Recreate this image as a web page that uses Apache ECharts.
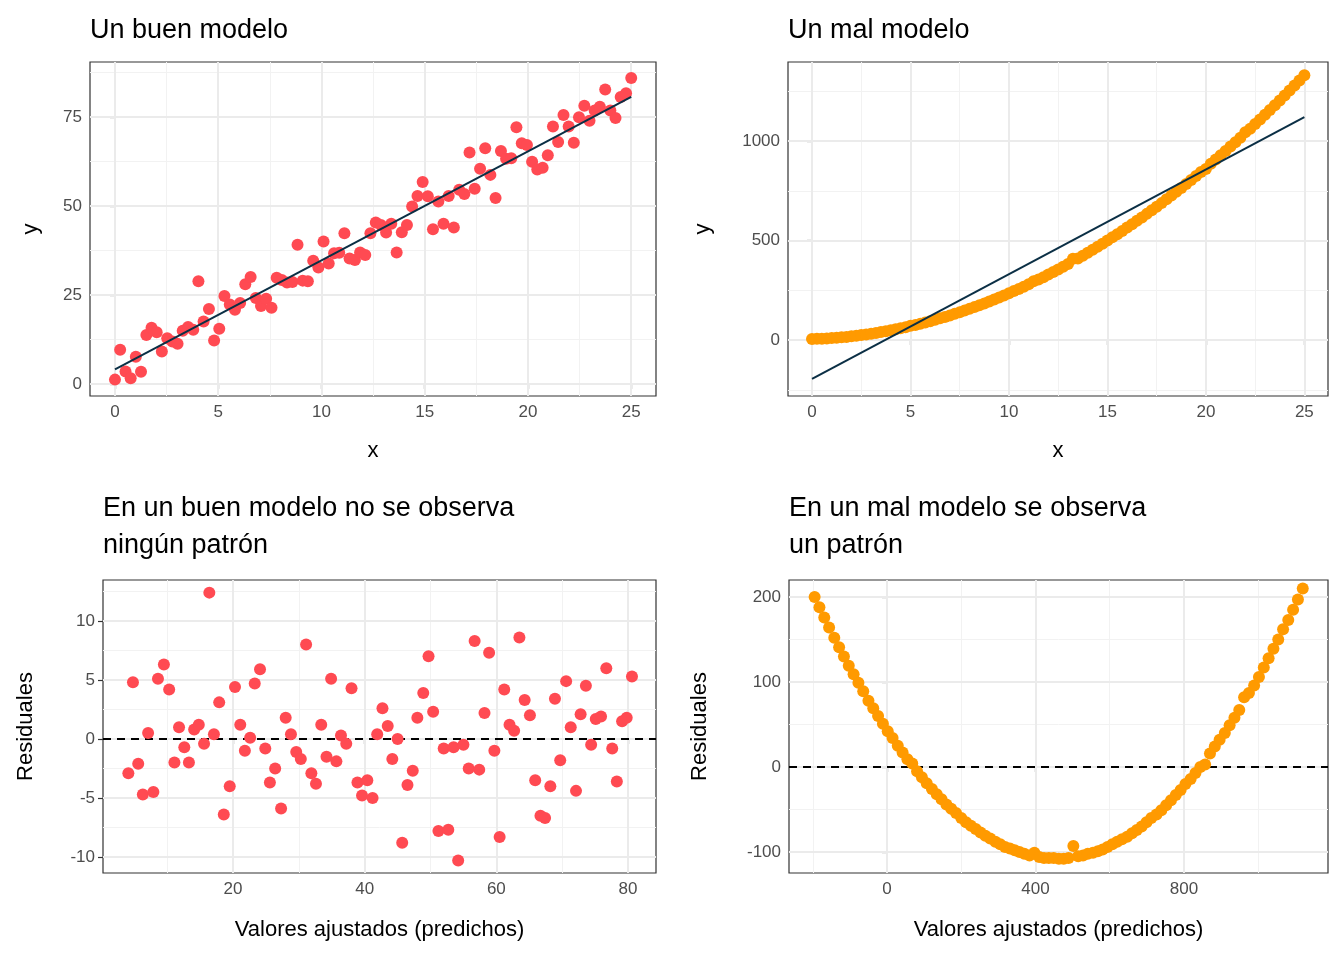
<!DOCTYPE html>
<html><head><meta charset="utf-8">
<script src="https://cdn.jsdelivr.net/npm/echarts@6/dist/echarts.min.js"></script>
<style>html,body{margin:0;padding:0;background:#fff}#c{width:1344px;height:960px}</style>
</head><body><div id="c"></div>
<script>
const xGood=[0.00,0.25,0.51,0.76,1.01,1.26,1.52,1.77,2.02,2.27,2.53,2.78,3.03,3.28,3.54,3.79,4.04,4.29,4.55,4.80,5.05,5.30,5.56,5.81,6.06,6.31,6.57,6.82,7.07,7.32,7.58,7.83,8.08,8.33,8.59,8.84,9.09,9.34,9.60,9.85,10.10,10.35,10.61,10.86,11.11,11.36,11.62,11.87,12.12,12.37,12.63,12.88,13.13,13.38,13.64,13.89,14.14,14.39,14.65,14.90,15.15,15.40,15.66,15.91,16.16,16.41,16.67,16.92,17.17,17.42,17.68,17.93,18.18,18.43,18.69,18.94,19.19,19.44,19.70,19.95,20.20,20.45,20.71,20.96,21.21,21.46,21.72,21.97,22.22,22.47,22.73,22.98,23.23,23.48,23.74,23.99,24.24,24.49,24.75,25.00];
const yGood=[1.2,9.6,3.5,1.6,7.6,3.4,13.7,15.8,14.5,9.1,12.8,11.9,11.3,14.9,16.0,15.2,28.8,17.5,21.0,12.2,15.5,24.7,22.3,20.8,22.7,28.0,30.0,24.1,21.9,23.9,21.4,29.8,29.2,28.5,28.6,39.1,29.0,28.8,34.6,32.7,40.0,33.8,36.7,36.8,42.3,35.2,34.8,36.9,36.2,42.3,45.3,44.6,42.5,45.0,36.9,42.6,44.6,49.8,52.8,56.7,52.7,43.4,51.2,45.0,52.8,43.9,54.5,53.3,65.0,54.8,60.4,66.2,58.7,52.2,65.4,63.2,63.4,72.1,67.6,67.1,62.4,60.2,60.7,64.2,72.3,67.9,75.5,72.3,67.7,74.9,78.1,73.9,76.8,77.8,82.7,76.8,74.7,80.6,81.6,85.9];
const fitGood=[4.1,4.8,5.6,6.3,7.1,7.9,8.6,9.5,10.3,11.1,11.8,12.6,13.3,14.1,14.8,15.6,16.4,17.1,17.9,18.6,19.5,20.3,21.1,21.8,22.6,23.3,24.1,24.9,25.6,26.4,27.3,28.0,28.8,29.6,30.3,31.1,31.9,32.6,33.4,34.2,34.9,35.7,36.4,37.2,38.0,38.9,39.6,40.4,41.2,41.9,42.7,43.5,44.2,45.0,45.7,46.5,47.3,48.0,48.9,49.7,50.4,51.2,52.0,52.7,53.5,54.2,55.0,55.8,56.7,57.4,58.2,58.9,59.7,60.5,61.2,62.0,62.7,63.5,64.3,65.1,65.9,66.7,67.4,68.2,68.9,69.7,70.6,71.3,72.1,72.8,73.6,74.4,75.1,75.9,76.7,77.6,78.3,79.1,79.8,80.6];
const resGood=[-2.9,4.8,-2.1,-4.7,0.5,-4.5,5.1,6.3,4.2,-2.0,1.0,-0.7,-2.0,0.8,1.2,-0.4,12.4,0.4,3.1,-6.4,-4.0,4.4,1.2,-1.0,0.1,4.7,5.9,-0.8,-3.7,-2.5,-5.9,1.8,0.4,-1.1,-1.7,8.0,-2.9,-3.8,1.2,-1.5,5.1,-1.9,0.3,-0.4,4.3,-3.7,-4.8,-3.5,-5.0,0.4,2.6,1.1,-1.7,0.0,-8.8,-3.9,-2.7,1.8,3.9,7.0,2.3,-7.8,-0.8,-7.7,-0.7,-10.3,-0.5,-2.5,8.3,-2.6,2.2,7.3,-1.0,-8.3,4.2,1.2,0.7,8.6,3.3,2.0,-3.5,-6.5,-6.7,-4.0,3.4,-1.8,4.9,1.0,-4.4,2.1,4.5,-0.5,1.7,1.9,6.0,-0.8,-3.6,1.5,1.8,5.3];
const lineGood=[[0,4.1],[25,80.6]];
const xBad=[0,0.25,0.5,0.75,1,1.25,1.5,1.75,2,2.25,2.5,2.75,3,3.25,3.5,3.75,4,4.25,4.5,4.75,5,5.25,5.5,5.75,6,6.25,6.5,6.75,7,7.25,7.5,7.75,8,8.25,8.5,8.75,9,9.25,9.5,9.75,10,10.25,10.5,10.75,11,11.25,11.5,11.75,12,12.25,12.5,12.75,13,13.25,13.5,13.75,14,14.25,14.5,14.75,15,15.25,15.5,15.75,16,16.25,16.5,16.75,17,17.25,17.5,17.75,18,18.25,18.5,18.75,19,19.25,19.5,19.75,20,20.25,20.5,20.75,21,21.25,21.5,21.75,22,22.25,22.5,22.75,23,23.25,23.5,23.75,24,24.25,24.5,24.75,25];
const yBad=[5,6,7,8,10,12,14,16,19,22,25,28,32,36,40,44,49,54,59,64,72,76,82,88,95,102,109,116,124,132,140,148,157,166,175,184,194,204,214,224,235,246,257,268,280,296,304,316,329,342,355,368,382,409,410,424,439,454,469,484,500,516,532,548,565,582,599,616,634,652,670,688,707,726,745,764,784,804,824,844,860,886,907,928,950,972,994,1016,1044,1062,1085,1108,1132,1156,1180,1204,1229,1254,1279,1304,1330];
const fitBad=[-195,-182,-169,-156,-142,-129,-116,-103,-90,-77,-64,-50,-37,-24,-11,2,15,29,42,55,68,81,94,107,121,134,147,160,173,186,200,213,226,239,252,265,278,292,305,318,331,344,357,370,384,397,410,423,436,449,463,476,489,502,515,528,541,555,568,581,594,607,620,633,647,660,673,686,699,712,726,739,752,765,778,791,804,818,831,844,857,870,883,896,910,923,936,949,962,975,989,1002,1015,1028,1041,1054,1067,1081,1094,1107,1120];
const resBad=[200,188,176,164,152,141,130,119,109,99,89,78,69,60,51,42,34,25,17,9,4,-5,-12,-19,-26,-32,-38,-44,-49,-54,-60,-65,-69,-73,-77,-81,-84,-88,-91,-94,-96,-98,-100,-102,-104,-101,-106,-107,-107,-107,-108,-108,-107,-93,-105,-104,-102,-101,-99,-97,-94,-91,-88,-85,-82,-78,-74,-70,-65,-60,-56,-51,-45,-39,-33,-27,-20,-14,-7,0,3,16,24,32,40,49,58,67,82,87,96,106,117,128,139,150,162,173,185,197,210];
const lineBad=[[0,-195],[25,1120]];

const panels=[
 {grid:{left:90,top:62,width:566,height:334},x:[-1.21,26.2],y:[-3.4,90.4],xt:[0,5,10,15,20,25],xm:[2.5,7.5,12.5,17.5,22.5],yt:[0,25,50,75],ym:[12.5,37.5,62.5,87.5],xn:'x',yn:'y',xg:44,yg:48,title:'Un buen modelo',tl:90,tt:12},
 {grid:{left:788,top:62,width:540,height:334},x:[-1.22,26.2],y:[-281,1397],xt:[0,5,10,15,20,25],xm:[2.5,7.5,12.5,17.5,22.5],yt:[0,500,1000],ym:[-250,250,750,1250],xn:'x',yn:'y',xg:44,yg:74,title:'Un mal modelo',tl:788,tt:12},
 {grid:{left:103,top:580,width:553,height:293},x:[0.25,84.25],y:[-11.36,13.47],xt:[20,40,60,80],xm:[10,30,50,70],yt:[-10,-5,0,5,10],ym:[-7.5,-2.5,2.5,7.5,12.5],xn:'Valores ajustados (predichos)',yn:'Residuales',xg:46,yg:66,title:'En un buen modelo no se observa\nningún patrón',tl:103,tt:490},
 {grid:{left:789,top:580,width:539,height:293},x:[-264,1188],y:[-124.7,220],xt:[0,400,800],xm:[-200,200,600,1000],yt:[-100,0,100,200],ym:[-50,50,150],xn:'Valores ajustados (predichos)',yn:'Residuales',xg:46,yg:78,title:'En un mal modelo se observa\nun patrón',tl:789,tt:490}
];
const zip=(a,b)=>a.map((v,i)=>[v,b[i]]);
const pts=[zip(xGood,yGood),zip(xBad,yBad),zip(fitGood,resGood),zip(fitBad,resBad)];
const cols=['#ff4a52','#ff9a00','#ff4a52','#ff9a00'];
const FF='Liberation Sans, Arial';
const lbl={color:'#4d4d4d',fontSize:17,fontFamily:FF,formatter:v=>String(v)};
const opt={animation:false,title:[],grid:[],xAxis:[],yAxis:[],series:[]};
panels.forEach((p,i)=>{
 opt.title.push({text:p.title,left:p.tl-5,top:p.tt-5,textStyle:{fontSize:27,fontWeight:'normal',color:'#000',fontFamily:FF,lineHeight:37}});
 opt.grid.push(Object.assign({show:true,borderColor:'#333',borderWidth:1.2,backgroundColor:'#fff',z:0},p.grid));
 opt.xAxis.push({type:'value',gridIndex:i,min:p.x[0],max:p.x[1],name:p.xn,nameLocation:'middle',nameGap:p.xg,nameTextStyle:{fontSize:22,color:'#000',fontFamily:FF},
  axisLine:{show:false},splitLine:{show:false},axisTick:{show:true,customValues:p.xt,length:5,lineStyle:{color:'#333',width:1.2}},axisLabel:Object.assign({customValues:p.xt,margin:8},lbl)});
 opt.yAxis.push({type:'value',gridIndex:i,min:p.y[0],max:p.y[1],name:p.yn,nameLocation:'middle',nameGap:p.yg,nameTextStyle:{fontSize:22,color:'#000',fontFamily:FF},
  axisLine:{show:false},splitLine:{show:false},axisTick:{show:true,customValues:p.yt,length:5,lineStyle:{color:'#333',width:1.2}},axisLabel:Object.assign({customValues:p.yt,margin:8},lbl)});
 const ml=[];
 p.xm.forEach(v=>ml.push({xAxis:v,lineStyle:{color:'#f2f2f2',width:1,type:'solid'}}));
 p.ym.forEach(v=>ml.push({yAxis:v,lineStyle:{color:'#f2f2f2',width:1,type:'solid'}}));
 p.xt.forEach(v=>ml.push({xAxis:v,lineStyle:{color:'#ebebeb',width:2,type:'solid'}}));
 p.yt.forEach(v=>ml.push({yAxis:v,lineStyle:{color:'#ebebeb',width:2,type:'solid'}}));
 opt.series.push({type:'scatter',xAxisIndex:i,yAxisIndex:i,data:[],silent:true,zlevel:0,z:1,markLine:{silent:true,symbol:'none',label:{show:false},animation:false,data:ml}});
 if(i>=2){
  opt.series.push({type:'scatter',xAxisIndex:i,yAxisIndex:i,data:[],silent:true,zlevel:1,z:2,markLine:{silent:true,symbol:'none',label:{show:false},data:[{yAxis:0,lineStyle:{color:'#000',width:2,type:[8,6]}}]}});
 }
 opt.series.push({type:'scatter',xAxisIndex:i,yAxisIndex:i,data:pts[i],symbolSize:12,itemStyle:{color:cols[i],opacity:1},zlevel:1,z:3});
 if(i<2){
  opt.series.push({type:'line',xAxisIndex:i,yAxisIndex:i,data:i===0?lineGood:lineBad,showSymbol:false,lineStyle:{color:'#0b2f45',width:2},zlevel:1,z:4});
 }
});
echarts.init(document.getElementById('c')).setOption(opt);
</script></body></html>
